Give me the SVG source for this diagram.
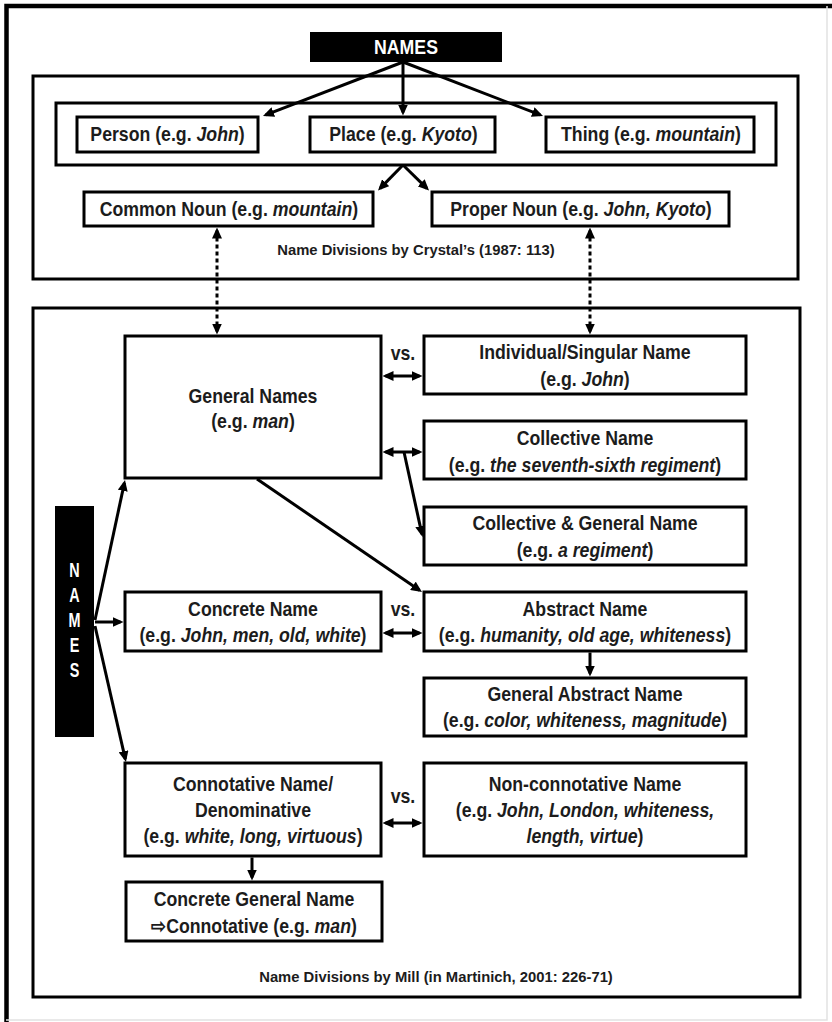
<svg xmlns="http://www.w3.org/2000/svg" width="832" height="1022" viewBox="0 0 832 1022">
<style>
  .frame { fill: none; stroke: #000; stroke-width: 3; }
  .box { fill: #fff; stroke: #000; stroke-width: 3; }
  .blk { fill: #000; stroke: none; }
  .t { font-family: "Liberation Sans", Arial, sans-serif; font-weight: bold; font-size: 20px; fill: #1c1c1c; text-anchor: middle; }
  .cap { font-size: 14.8px; }
  .w { fill: #fff; }
  .i { font-style: italic; }
  .ln { fill: none; stroke: #000; stroke-width: 3; }
  .arr { marker-end: url(#ah); }
  .dbl { marker-start: url(#ah); marker-end: url(#ah); }
  .dot { stroke-dasharray: 4 3; }
</style>
<defs>
  <marker id="ah" viewBox="0 0 11 10" markerUnits="userSpaceOnUse" markerWidth="11" markerHeight="10" refX="8" refY="5" orient="auto-start-reverse">
    <path d="M0,0 L11,5 L0,10 z" fill="#000"/>
  </marker>
</defs>
<rect width="832" height="1022" fill="#fff"/>
<!-- outer border -->
<path d="M6.5,1022 V6 H832" fill="none" stroke="#000" stroke-width="4.5"/>
<path d="M827,6 V1020 H6" fill="none" stroke="#e2e2e2" stroke-width="1.5"/>

<!-- section frames -->
<g id="crystal-section">
  <rect class="frame" x="33" y="76" width="765" height="203"/>
  <rect class="frame" x="56" y="103" width="720" height="62"/>
  <text class="t cap" x="416" y="255">Name Divisions by Crystal’s (1987: 113)</text>
</g>
<g id="mill-section">
  <rect class="frame" x="33" y="308" width="767" height="689"/>
  <text class="t cap" x="436" y="982">Name Divisions by Mill (in Martinich, 2001: 226-71)</text>
</g>

<!-- connectors -->
<g id="connectors">
  <path class="ln arr" d="M403,62 L265.8,114.9"/>
  <path class="ln arr" d="M403,62 L403,112.5"/>
  <path class="ln arr" d="M403,62 L540.2,114.9"/>
  <path class="ln arr" d="M403,165 L380.1,188.4"/>
  <path class="ln arr" d="M403,165 L426.9,188.4"/>
  <path class="ln dbl dot" d="M217,230.5 L217,331.5"/>
  <path class="ln dbl dot" d="M590,230.5 L590,331.5"/>
  <path class="ln dbl" d="M385.5,376 L419.5,376"/>
  <path class="ln dbl" d="M385.5,452 L419.5,452"/>
  <path class="ln arr" d="M404,452 L421.9,534.1"/>
  <path class="ln arr" d="M257,479 L419.5,590.3"/>
  <path class="ln dbl" d="M385.5,633 L419.5,633"/>
  <path class="ln arr" d="M590,652.5 L590,673.5"/>
  <path class="ln dbl" d="M385.5,823 L419.5,823"/>
  <path class="ln arr" d="M252,857.5 L252,877.5"/>
  <path class="ln arr" d="M95,620 L124.4,482.9"/>
  <path class="ln arr" d="M95,622 L120.5,622"/>
  <path class="ln arr" d="M95,626 L125.3,759.1"/>
  <text class="t" transform="scale(0.885,1)" x="455.37" y="360">vs.</text>
  <text class="t" transform="scale(0.885,1)" x="455.37" y="616">vs.</text>
  <text class="t" transform="scale(0.885,1)" x="455.37" y="803">vs.</text>
</g>

<!-- nodes -->
<g id="names-top">
  <rect class="blk" x="310" y="32" width="192" height="30"/>
  <text class="t w" transform="scale(0.885,1)" x="458.76" y="54">NAMES</text>
</g>
<g id="person">
  <rect class="box" x="77" y="117" width="181" height="35"/>
  <text class="t" transform="scale(0.885,1)" x="189.27" y="141">Person (e.g. <tspan class="i">John</tspan>)</text>
</g>
<g id="place">
  <rect class="box" x="310" y="117" width="185" height="35"/>
  <text class="t" transform="scale(0.885,1)" x="455.93" y="141">Place (e.g. <tspan class="i">Kyoto</tspan>)</text>
</g>
<g id="thing">
  <rect class="box" x="546" y="117" width="208" height="35"/>
  <text class="t" transform="scale(0.885,1)" x="735.59" y="141">Thing (e.g. <tspan class="i">mountain</tspan>)</text>
</g>
<g id="common-noun">
  <rect class="box" x="84" y="192" width="289" height="34"/>
  <text class="t" transform="scale(0.885,1)" x="258.76" y="216">Common Noun (e.g. <tspan class="i">mountain</tspan>)</text>
</g>
<g id="proper-noun">
  <rect class="box" x="432" y="192" width="297" height="34"/>
  <text class="t" transform="scale(0.885,1)" x="656.5" y="216">Proper Noun (e.g. <tspan class="i">John, Kyoto</tspan>)</text>
</g>
<g id="names-vertical">
  <rect class="blk" x="55" y="506" width="39" height="231"/>
  <text class="t w" transform="scale(0.72,1)" x="103.47" y="577">N</text>
  <text class="t w" transform="scale(0.72,1)" x="103.47" y="602">A</text>
  <text class="t w" transform="scale(0.72,1)" x="103.47" y="627">M</text>
  <text class="t w" transform="scale(0.72,1)" x="103.47" y="652">E</text>
  <text class="t w" transform="scale(0.72,1)" x="103.47" y="677">S</text>
</g>
<g id="general-names">
  <rect class="box" x="125" y="336" width="256" height="142"/>
  <text class="t" transform="scale(0.885,1)" x="285.88" y="403">General Names</text>
  <text class="t" transform="scale(0.885,1)" x="285.88" y="428">(e.g. <tspan class="i">man</tspan>)</text>
</g>
<g id="individual">
  <rect class="box" x="424" y="336" width="322" height="58"/>
  <text class="t" transform="scale(0.885,1)" x="661.02" y="359">Individual/Singular Name</text>
  <text class="t" transform="scale(0.885,1)" x="661.02" y="386">(e.g. <tspan class="i">John</tspan>)</text>
</g>
<g id="collective">
  <rect class="box" x="424" y="421" width="322" height="58"/>
  <text class="t" transform="scale(0.885,1)" x="661.02" y="445">Collective Name</text>
  <text class="t" transform="scale(0.885,1)" x="661.02" y="472">(e.g. <tspan class="i">the seventh-sixth regiment</tspan>)</text>
</g>
<g id="collective-general">
  <rect class="box" x="424" y="507" width="322" height="58"/>
  <text class="t" transform="scale(0.885,1)" x="661.02" y="530">Collective &amp; General Name</text>
  <text class="t" transform="scale(0.885,1)" x="661.02" y="557">(e.g. <tspan class="i">a regiment</tspan>)</text>
</g>
<g id="concrete">
  <rect class="box" x="125" y="592" width="256" height="59"/>
  <text class="t" transform="scale(0.885,1)" x="285.88" y="616">Concrete Name</text>
  <text class="t" transform="scale(0.885,1)" x="285.88" y="642">(e.g. <tspan class="i">John, men, old, white</tspan>)</text>
</g>
<g id="abstract">
  <rect class="box" x="424" y="592" width="322" height="59"/>
  <text class="t" transform="scale(0.885,1)" x="661.02" y="616">Abstract Name</text>
  <text class="t" transform="scale(0.885,1)" x="661.02" y="642">(e.g. <tspan class="i">humanity, old age, whiteness</tspan>)</text>
</g>
<g id="general-abstract">
  <rect class="box" x="424" y="678" width="322" height="58"/>
  <text class="t" transform="scale(0.885,1)" x="661.02" y="701">General Abstract Name</text>
  <text class="t" transform="scale(0.885,1)" x="661.02" y="727">(e.g. <tspan class="i">color, whiteness, magnitude</tspan>)</text>
</g>
<g id="connotative">
  <rect class="box" x="125" y="763" width="256" height="93"/>
  <text class="t" transform="scale(0.885,1)" x="285.88" y="791">Connotative Name/</text>
  <text class="t" transform="scale(0.885,1)" x="285.88" y="817">Denominative</text>
  <text class="t" transform="scale(0.885,1)" x="285.88" y="843">(e.g. <tspan class="i">white, long, virtuous</tspan>)</text>
</g>
<g id="non-connotative">
  <rect class="box" x="424" y="763" width="322" height="93"/>
  <text class="t" transform="scale(0.885,1)" x="661.02" y="791">Non-connotative Name</text>
  <text class="t" transform="scale(0.885,1)" x="661.02" y="817">(e.g. <tspan class="i">John, London, whiteness,</tspan></text>
  <text class="t" transform="scale(0.885,1)" x="661.02" y="843"><tspan class="i">length, virtue</tspan>)</text>
</g>
<g id="concrete-general">
  <rect class="box" x="126" y="882" width="256" height="59"/>
  <text class="t" transform="scale(0.885,1)" x="287.01" y="906">Concrete General Name</text>
  <text class="t" transform="scale(0.885,1)" x="287.01" y="933">⇨Connotative (e.g. <tspan class="i">man</tspan>)</text>
</g>
</svg>
